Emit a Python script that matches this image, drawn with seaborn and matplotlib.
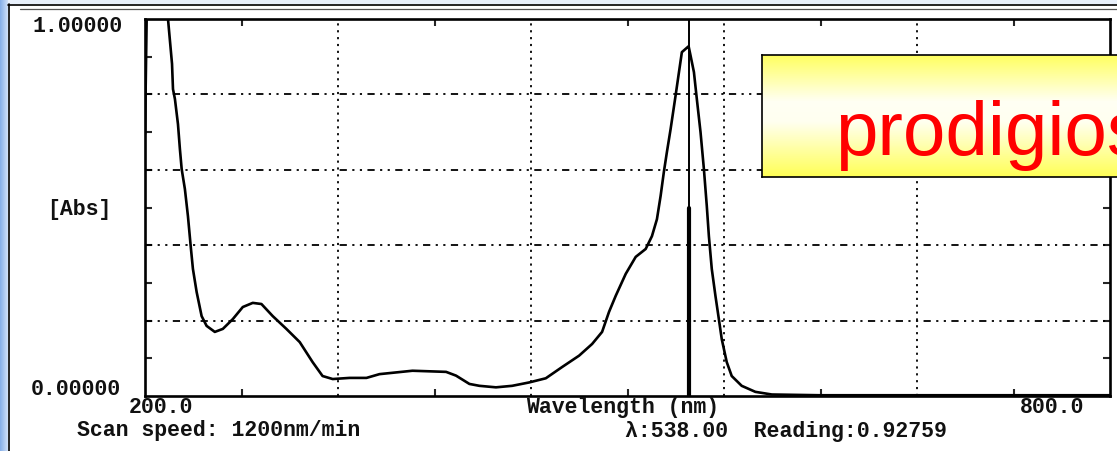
import numpy as np
import matplotlib
matplotlib.use("Agg")
import matplotlib.pyplot as plt
import seaborn as sns
from matplotlib.patches import Rectangle
from matplotlib.lines import Line2D
from matplotlib.colors import LinearSegmentedColormap

# UV-Vis absorption scan of the pigment extract
wavelength_nm = [200.0, 201.2, 212.4, 214.3, 216.8, 217.4, 218.6, 220.5, 221.7, 222.8,
                 224.8, 226.7, 228.4, 229.8, 232.1, 235.2, 238.3, 243.4, 248.4, 254.6,
                 260.8, 267.0, 272.4, 279.4, 287.9, 296.2, 304.2, 310.4, 316.7, 327.2,
                 337.7, 345.8, 366.3, 387.2, 393.4, 401.7, 407.9, 418.2, 428.3, 438.9,
                 449.2, 459.4, 469.9, 478.0, 484.2, 488.5, 492.7, 498.9, 505.1, 511.3,
                 515.2, 518.3, 520.6, 522.6, 524.5, 526.8, 529.9, 532.0, 533.8, 537.0,
                 538.0, 539.2, 541.3, 543.1, 545.4, 547.5, 549.3, 550.6, 552.4, 554.7,
                 556.8, 558.6, 561.7, 564.8, 571.0, 579.5, 589.7, 620.0, 700.0, 800.0]
absorbance = [0.695, 1.05, 1.05, 1.000, 0.881, 0.814, 0.788, 0.721, 0.655, 0.602,
              0.549, 0.477, 0.398, 0.337, 0.276, 0.212, 0.186, 0.170, 0.178, 0.204,
              0.236, 0.247, 0.244, 0.212, 0.178, 0.143, 0.090, 0.053, 0.045, 0.048,
              0.048, 0.058, 0.067, 0.064, 0.054, 0.032, 0.027, 0.023, 0.027, 0.036,
              0.047, 0.077, 0.107, 0.138, 0.170, 0.223, 0.266, 0.324, 0.369, 0.390,
              0.424, 0.469, 0.531, 0.594, 0.647, 0.708, 0.797, 0.859, 0.912, 0.924,
              0.92759, 0.903, 0.859, 0.788, 0.700, 0.602, 0.504, 0.424, 0.337, 0.265,
              0.204, 0.151, 0.090, 0.053, 0.027, 0.011, 0.004, 0.002, 0.002, 0.002]

x_range = [200.0, 800.0]
y_range = [0.0, 1.0]
x_grid = [320, 440, 560, 680]
x_minor = [260, 380, 500, 620, 740]
y_grid = [0.2, 0.4, 0.6, 0.8]
y_minor = [0.1, 0.3, 0.5, 0.7, 0.9]
cursor_nm = 538.0
cursor_reading = 0.92759
scan_speed = "1200nm/min"
pigment = "prodigiosin"

W, H = 1117, 452

sns.set_style("white")
plt.rcParams["font.family"] = ["DejaVu Sans"]

fig = plt.figure(figsize=(W / 100, H / 100), dpi=100)
fig.patch.set_facecolor("white")


def fx(px):
    return px / W


def fy(py):
    return 1 - py / H


# slide frame: blue strip on the left, pale band on top
strip = fig.add_axes([0, 0, fx(8), 1])
strip.imshow(np.linspace(0, 1, 16).reshape(1, -1), aspect="auto",
             cmap=LinearSegmentedColormap.from_list("b", ["#86afe8", "#cfe0f8"]),
             extent=[0, 1, 0, 1])
strip.set_axis_off()
fig.add_artist(Rectangle((fx(8), fy(5)), 1, 1, transform=fig.transFigure,
                         facecolor="#e8f0fb", edgecolor="none"))
fig.add_artist(Line2D([fx(8.5), fx(8.5)], [0, fy(5)], transform=fig.transFigure,
                      color="black", lw=1.2))
fig.add_artist(Line2D([fx(8), 1], [fy(6), fy(6)], transform=fig.transFigure,
                      color="black", lw=1.2))
fig.add_artist(Line2D([fx(20), 1], [fy(10), fy(10)], transform=fig.transFigure,
                      color="#555555", lw=0.9))

# spectrum axes
ax = fig.add_axes([fx(145), fy(397), fx(1110) - fx(145), fy(20) - fy(397)])
ax.set_xlim(*x_range)
ax.set_ylim(*y_range)
ax.set_facecolor("white")

for xv in x_grid:
    ax.axvline(xv, color="black", lw=1.3, ls=(0, (1.2, 2.6)), zorder=1)
for yv in y_grid:
    ax.axhline(yv, color="black", lw=1.3, ls=(0, (4, 3, 1.2, 3, 1.2, 3)), zorder=1)

sns.lineplot(x=wavelength_nm, y=absorbance, ax=ax, color="black", lw=1.9,
             estimator=None, sort=False, zorder=3)

# wavelength cursor
ax.axvline(cursor_nm, ymin=0, ymax=0.5, color="black", lw=3.0, zorder=4)
ax.axvline(cursor_nm, ymin=0.5, ymax=1, color="black", lw=1.4, zorder=4)

ax.set_xticks(x_grid)
ax.set_xticks(x_minor, minor=True)
ax.set_yticks(y_grid)
ax.set_yticks(y_minor, minor=True)
ax.tick_params(which="both", direction="in", length=5, width=1.5,
               top=True, right=True, bottom=True, left=True,
               labelbottom=False, labelleft=False)
ax.tick_params(which="major", bottom=False, top=False)
for s in ax.spines.values():
    s.set_linewidth(1.9)
    s.set_color("black")
    s.set_visible(True)
ax.set_xlabel("")
ax.set_ylabel("")

# instrument printout labels
mono = dict(family=["Liberation Mono", "DejaVu Sans Mono"], fontweight="bold",
            fontsize=15.5, color="#111111", va="baseline", ha="center")
fig.text(fx(78), fy(32), f"{y_range[1]:.5f}", **mono)
fig.text(fx(79), fy(215), "[Abs]", **mono)
fig.text(fx(76), fy(395), f"{y_range[0]:.5f}", **mono)
fig.text(fx(161), fy(413), f"{x_range[0]:.1f}", **mono)
fig.text(fx(623), fy(413), "Wavelength (nm)", **mono)
fig.text(fx(1052), fy(413), f"{x_range[1]:.1f}", **mono)
fig.text(fx(219), fy(436), f"Scan speed: {scan_speed}", **mono)
fig.text(fx(786), fy(437), f"λ:{cursor_nm:.2f}  Reading:{cursor_reading:.5f}", **mono)

# highlighted pigment name
box = fig.add_axes([fx(762), fy(178), fx(1140) - fx(762), fy(56) - fy(178)])
grad = LinearSegmentedColormap.from_list(
    "y", [(0.0, "#ffff62"), (0.38, "#fffff4"), (0.55, "#fffff0"), (1.0, "#ffff58")])
box.imshow(np.linspace(0, 1, 64).reshape(-1, 1), aspect="auto", cmap=grad,
           extent=[0, 1, 0, 1])
box.set_xlim(0, 1)
box.set_ylim(0, 1)
box.set_xticks([])
box.set_yticks([])
for s in box.spines.values():
    s.set_linewidth(1.2)
    s.set_color("black")
fig.text(fx(835), fy(155), pigment, color="#ff0000", fontsize=55,
         family=["Liberation Sans"], va="baseline", ha="left")

fig.savefig("out.png", dpi=100)
